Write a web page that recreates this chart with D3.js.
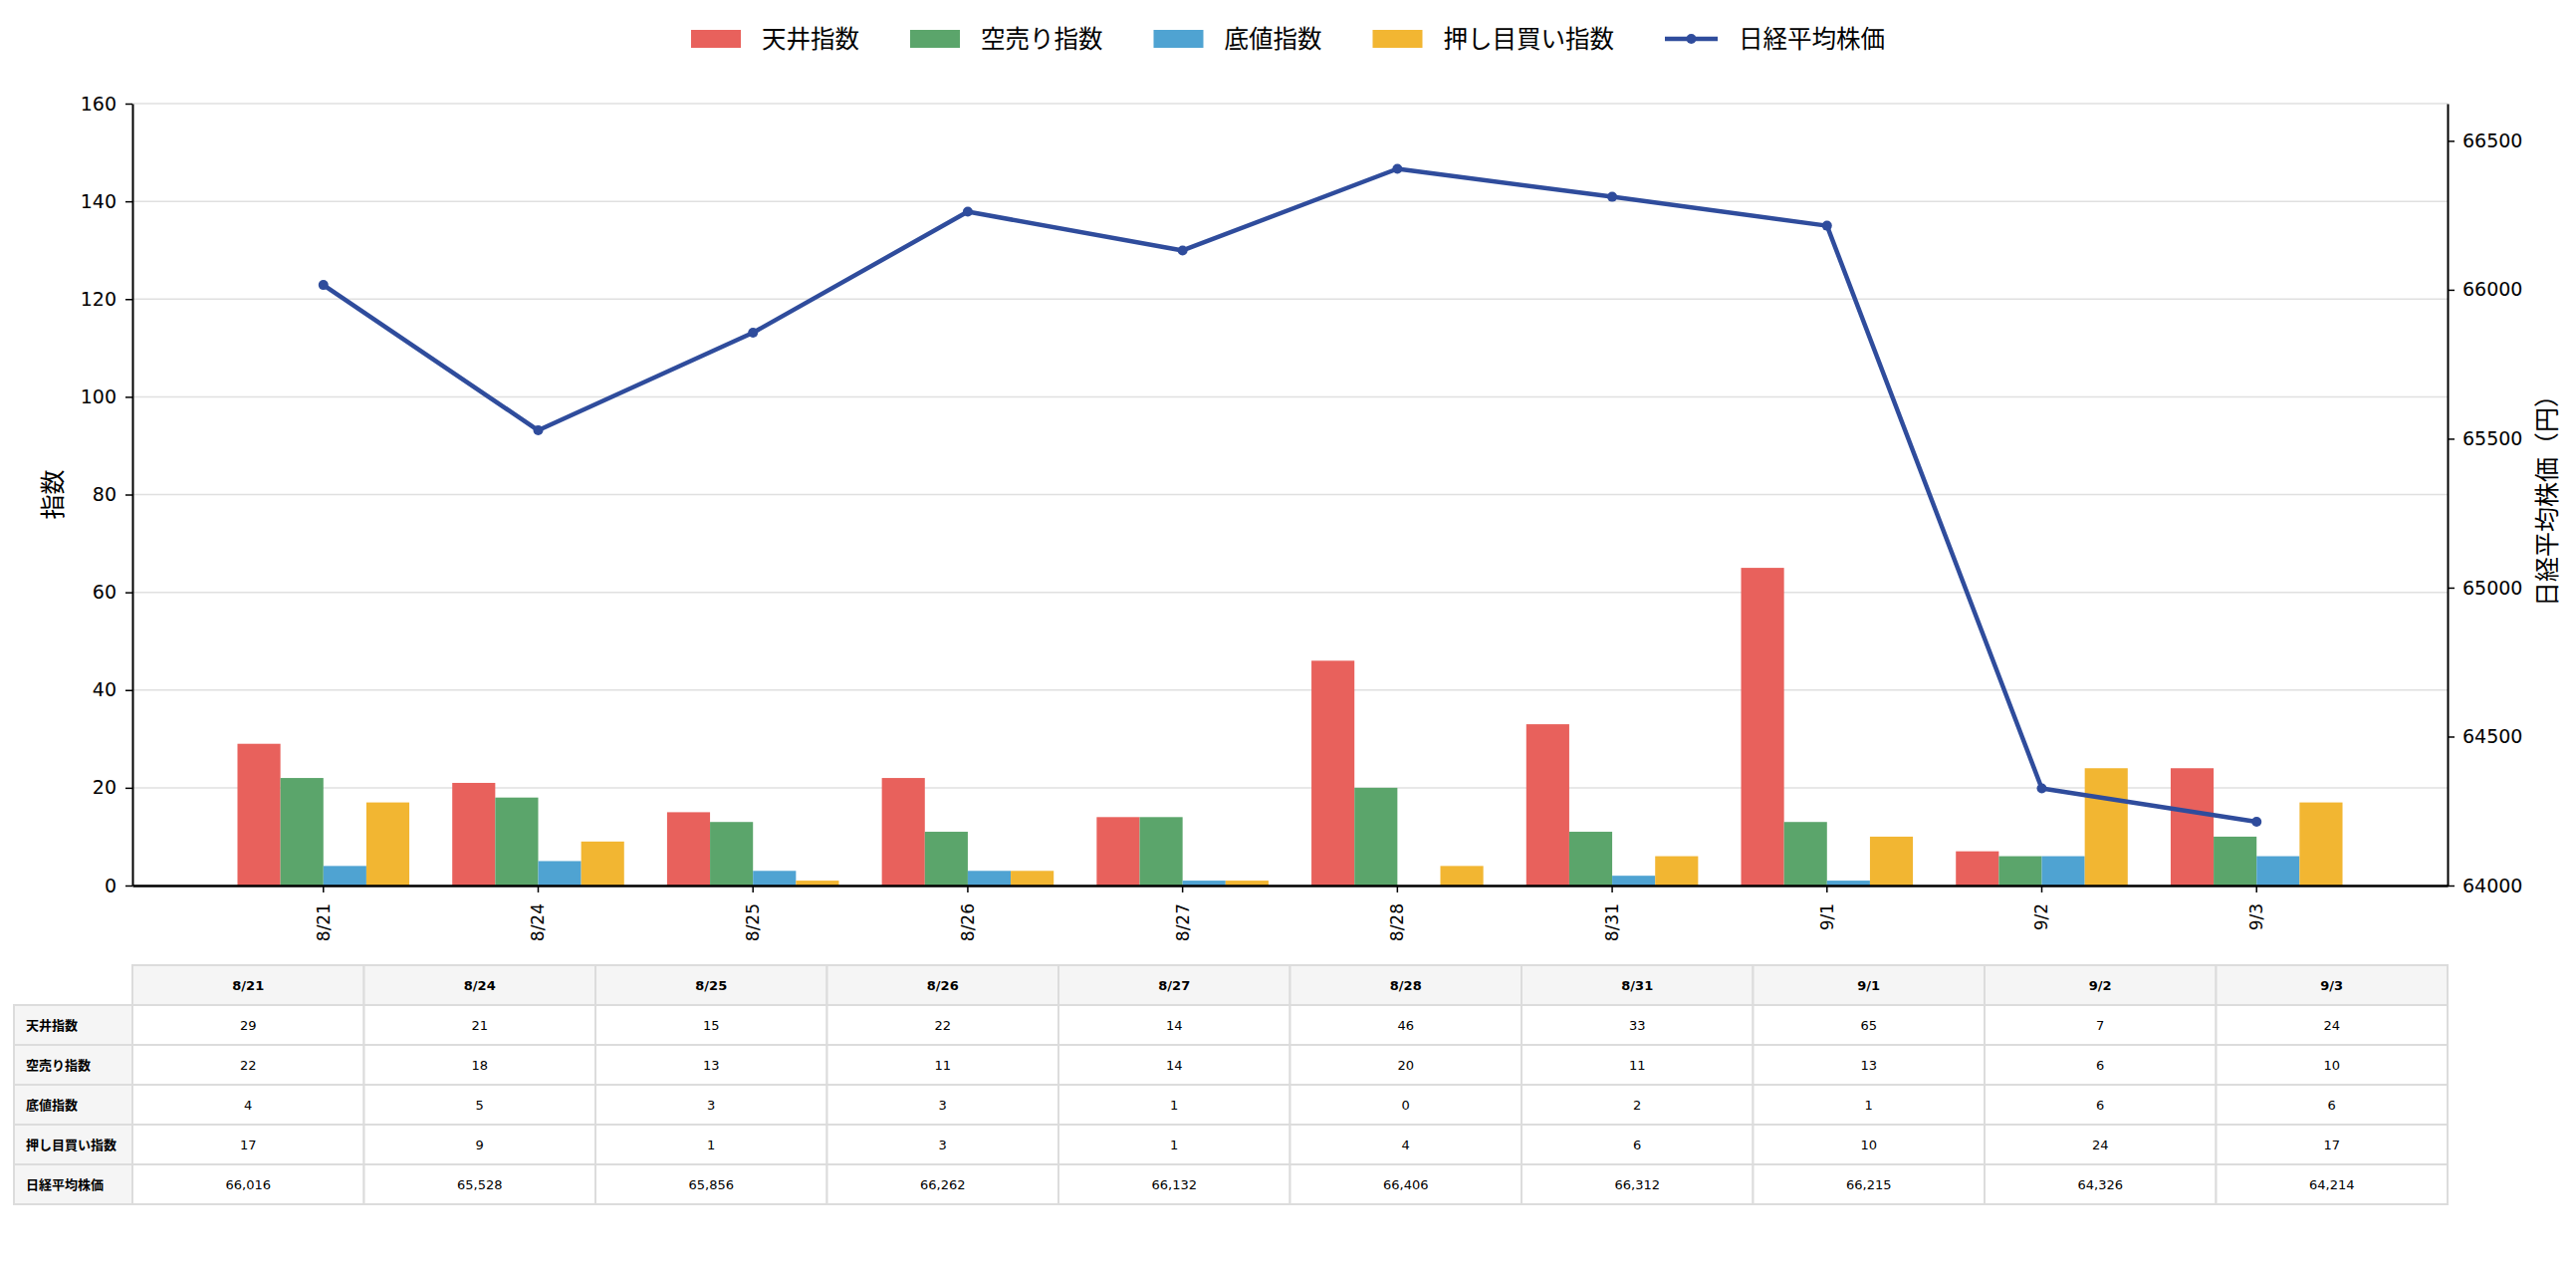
<!DOCTYPE html>
<html lang="ja">

<head>
    <meta charset="UTF-8">
    <title>天井指数・空売り指数・底値指数・押し目買い指数と日経平均株価</title>
    <script src="https://d3js.org/d3.v7.min.js"></script>
    <style>
        body,
        html {
            margin: 0;
            padding: 0;
            overflow: hidden;
            background: #fff;
        }

        svg text {
            font-family: "DejaVu Sans", "Noto Sans CJK JP", sans-serif;
            fill: #000;
        }

        .grid line {
            stroke: #e0e0e0;
            stroke-width: 1.5px;
        }

        .axis .domain {
            stroke: #000;
            stroke-width: 2px;
        }

        .axis .tick line {
            stroke: #000;
            stroke-width: 1.5px;
        }
    </style>
</head>

<body>
    <svg id="chart" width="2587" height="1274"></svg>
    <script>
        // data
        const dates = ["8/21", "8/24", "8/25", "8/26", "8/27", "8/28", "8/31", "9/1", "9/2", "9/3"];
        const tenjo = [29, 21, 15, 22, 14, 46, 33, 65, 7, 24];
        const karauri = [22, 18, 13, 11, 14, 20, 11, 13, 6, 10];
        const sokone = [4, 5, 3, 3, 1, 0, 2, 1, 6, 6];
        const oshime = [17, 9, 1, 3, 1, 4, 6, 10, 24, 17];
        const nikkei = [66016, 65528, 65856, 66262, 66132, 66406, 66312, 66215, 64326, 64214];
        const barNames = ["天井指数", "空売り指数", "底値指数", "押し目買い指数"];
        const lineName = "日経平均株価";
        const leftTicks = [0, 20, 40, 60, 80, 100, 120, 140, 160];
        const rightTicks = [64000, 64500, 65000, 65500, 66000, 66500];

        const barColors = ["#e8615c", "#5ba56b", "#4fa3d2", "#f2b632"];
        const lineColor = "#2f4c9c";

        const W = 2587, H = 1274;
        const plot = { left: 133, right: 2458, top: 104, bottom: 889 };

        const svg = d3.select("#chart");
        const barSeries = [tenjo, karauri, sokone, oshime];

        const x = d3.scaleBand()
            .domain(dates)
            .range([plot.left, plot.right])
            .paddingInner(0.2)
            .paddingOuter(0.489);
        const xs = d3.scaleBand()
            .domain(barNames)
            .range([0, x.bandwidth()]);
        const yL = d3.scaleLinear().domain([0, 160]).range([plot.bottom, plot.top]);
        const yR = d3.scaleLinear().domain([64000, 66625]).range([plot.bottom, plot.top]);
        const cx = d => x(d) + x.bandwidth() / 2;

        // gridlines
        svg.append("g")
            .attr("class", "grid")
            .selectAll("line")
            .data(leftTicks)
            .join("line")
            .attr("x1", plot.left)
            .attr("x2", plot.right)
            .attr("y1", d => yL(d))
            .attr("y2", d => yL(d));

        // bars
        barNames.forEach((name, s) => {
            svg.append("g")
                .attr("fill", barColors[s])
                .selectAll("rect")
                .data(barSeries[s])
                .join("rect")
                .attr("x", (d, i) => x(dates[i]) + xs(name))
                .attr("width", xs.bandwidth())
                .attr("y", d => yL(d))
                .attr("height", d => yL(0) - yL(d));
        });

        // axes
        const axL = svg.append("g")
            .attr("class", "axis")
            .attr("transform", `translate(${plot.left},0)`)
            .call(d3.axisLeft(yL).tickValues(leftTicks).tickSize(7).tickPadding(9).tickSizeOuter(0));
        axL.selectAll("text").style("font-size", "19px");

        const axR = svg.append("g")
            .attr("class", "axis")
            .attr("transform", `translate(${plot.right},0)`)
            .call(d3.axisRight(yR).tickValues(rightTicks).tickSize(7).tickPadding(8).tickSizeOuter(0).tickFormat(d3.format("d")));
        axR.selectAll("text").style("font-size", "19px");

        const axB = svg.append("g")
            .attr("class", "axis")
            .attr("transform", `translate(0,${plot.bottom})`)
            .call(d3.axisBottom(x).tickSize(7).tickSizeOuter(0));
        axB.select(".domain").style("stroke-width", "2.5px");
        axB.selectAll("text")
            .style("font-size", "17px")
            .attr("transform", "rotate(-90)")
            .attr("text-anchor", "end")
            .attr("x", -18)
            .attr("y", 0)
            .attr("dy", "0.35em");

        // nikkei line
        svg.append("path")
            .datum(nikkei)
            .attr("fill", "none")
            .attr("stroke", lineColor)
            .attr("stroke-width", 4.5)
            .attr("stroke-linejoin", "round")
            .attr("d", d3.line().x((d, i) => cx(dates[i])).y(d => yR(d)));

        svg.append("g")
            .attr("fill", lineColor)
            .selectAll("circle")
            .data(nikkei)
            .join("circle")
            .attr("cx", (d, i) => cx(dates[i]))
            .attr("cy", d => yR(d))
            .attr("r", 5);

        // axis titles
        svg.append("text")
            .attr("transform", `translate(53,${(plot.top + plot.bottom) / 2}) rotate(-90)`)
            .attr("text-anchor", "middle")
            .attr("dy", "0.35em")
            .style("font-size", "25px")
            .text("指数");

        svg.append("text")
            .attr("transform", `translate(2558,${(plot.top + plot.bottom) / 2}) rotate(-90)`)
            .attr("text-anchor", "middle")
            .attr("dy", "0.35em")
            .style("font-size", "25px")
            .text("日経平均株価（円）");

        // legend
        const legend = svg.append("g");
        const items = barNames.map((n, i) => ({ name: n, color: barColors[i], type: "bar" }))
            .concat([{ name: lineName, color: lineColor, type: "line" }]);
        let lx = 0;
        items.forEach(it => {
            const g = legend.append("g").attr("transform", `translate(${lx},0)`);
            let w;
            if (it.type === "bar") {
                g.append("rect").attr("x", 0).attr("y", -9).attr("width", 50).attr("height", 18).attr("fill", it.color);
                w = 50;
            } else {
                g.append("line").attr("x1", 0).attr("x2", 53).attr("y1", 0).attr("y2", 0)
                    .attr("stroke", it.color).attr("stroke-width", 4.5);
                g.append("circle").attr("cx", 26.5).attr("cy", 0).attr("r", 5).attr("fill", it.color);
                w = 53;
            }
            const t = g.append("text")
                .attr("x", w + 21)
                .attr("dy", "0.35em")
                .style("font-size", "24.5px")
                .text(it.name);
            lx += w + 21 + t.node().getComputedTextLength() + 51;
        });
        lx -= 51;
        legend.attr("transform", `translate(${(W - lx) / 2},39)`);

        // data table
        const rowNames = barNames.concat([lineName]);
        const rowValues = barSeries.concat([nikkei]);
        const tx = d3.scaleBand().domain(dates).range([plot.left, plot.right]);
        const ty = d3.scaleBand().domain(["header"].concat(rowNames)).range([969, 1209]);
        const labelLeft = 14;
        const fmt = d3.format(",");
        const table = svg.append("g");
        const cellStroke = "#dcdcdc";

        // header
        dates.forEach(d => {
            table.append("rect")
                .attr("x", tx(d)).attr("y", ty("header"))
                .attr("width", tx.bandwidth()).attr("height", ty.bandwidth())
                .attr("fill", "#f5f5f5").attr("stroke", cellStroke).attr("stroke-width", 2);
            table.append("text")
                .attr("x", tx(d) + tx.bandwidth() / 2)
                .attr("y", ty("header") + ty.bandwidth() / 2)
                .attr("dy", "0.35em")
                .attr("text-anchor", "middle")
                .style("font-size", "13px")
                .style("font-weight", "bold")
                .text(d);
        });

        rowNames.forEach((name, r) => {
            table.append("rect")
                .attr("x", labelLeft).attr("y", ty(name))
                .attr("width", plot.left - labelLeft).attr("height", ty.bandwidth())
                .attr("fill", "#f5f5f5").attr("stroke", cellStroke).attr("stroke-width", 2);
            table.append("text")
                .attr("x", labelLeft + 12)
                .attr("y", ty(name) + ty.bandwidth() / 2)
                .attr("dy", "0.35em")
                .style("font-size", "13px")
                .style("font-weight", "bold")
                .text(name);
            dates.forEach((d, i) => {
                table.append("rect")
                    .attr("x", tx(d)).attr("y", ty(name))
                    .attr("width", tx.bandwidth()).attr("height", ty.bandwidth())
                    .attr("fill", "#fff").attr("stroke", cellStroke).attr("stroke-width", 2);
                table.append("text")
                    .attr("x", tx(d) + tx.bandwidth() / 2)
                    .attr("y", ty(name) + ty.bandwidth() / 2)
                    .attr("dy", "0.35em")
                    .attr("text-anchor", "middle")
                    .style("font-size", "13px")
                    .text(fmt(rowValues[r][i]));
            });
        });
    </script>
</body>

</html>
